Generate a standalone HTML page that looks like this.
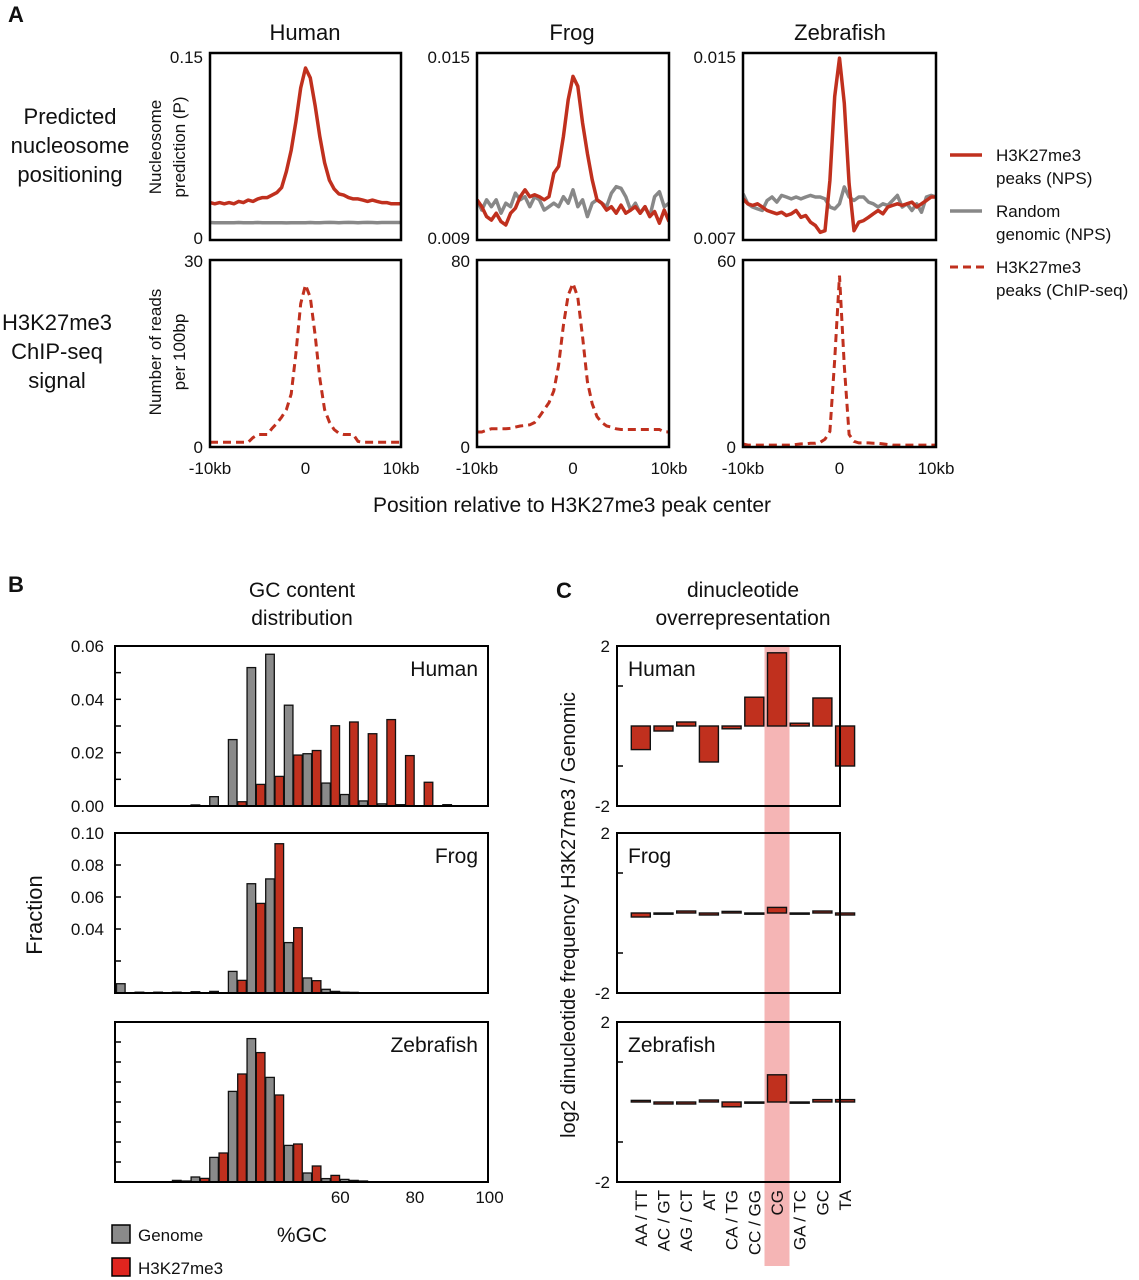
<!DOCTYPE html>
<html><head><meta charset="utf-8">
<style>
html,body{margin:0;padding:0;background:#fff;}
svg{display:block;font-family:"Liberation Sans",Arial,sans-serif;}
</style></head>
<body>
<svg id="fig" width="1139" height="1280" viewBox="0 0 1139 1280" xmlns="http://www.w3.org/2000/svg">
<defs>
<clipPath id="cH"><rect x="210" y="53" width="191" height="187"/></clipPath>
<clipPath id="cF"><rect x="477" y="53" width="192" height="187"/></clipPath>
<clipPath id="cZ"><rect x="743" y="53" width="193" height="187"/></clipPath>
</defs>
<g font-size="22" fill="#111">
<text x="8" y="22" font-weight="bold">A</text>
<text x="8" y="592" font-weight="bold">B</text>
<text x="556" y="598" font-weight="bold">C</text>
<text x="305" y="40" text-anchor="middle">Human</text>
<text x="572" y="40" text-anchor="middle">Frog</text>
<text x="840" y="40" text-anchor="middle">Zebrafish</text>
<text x="70" text-anchor="middle"><tspan x="70" y="124">Predicted</tspan><tspan x="70" y="153">nucleosome</tspan><tspan x="70" y="182">positioning</tspan></text>
<text x="57" text-anchor="middle"><tspan x="57" y="330">H3K27me3</tspan><tspan x="57" y="359">ChIP-seq</tspan><tspan x="57" y="388">signal</tspan></text>
<text x="572" y="512" text-anchor="middle" font-size="21">Position relative to H3K27me3 peak center</text>
</g>
<g font-size="17" fill="#111">
<text transform="translate(161,147) rotate(-90)" text-anchor="middle"><tspan x="0" y="0">Nucleosome</tspan><tspan x="0" y="24">prediction (P)</tspan></text>
<text transform="translate(161,352) rotate(-90)" text-anchor="middle"><tspan x="0" y="0">Number of reads</tspan><tspan x="0" y="24">per 100bp</tspan></text>
</g>
<g id="panelA"></g>
<g id="legendA" font-size="17" fill="#111">
<line x1="950" y1="155" x2="982" y2="155" stroke="#c0301e" stroke-width="3.5"/>
<text x="996" y="161"><tspan x="996" y="161">H3K27me3</tspan><tspan x="996" y="184">peaks (NPS)</tspan></text>
<line x1="950" y1="211" x2="982" y2="211" stroke="#888" stroke-width="3.5"/>
<text x="996" y="217"><tspan x="996" y="217">Random</tspan><tspan x="996" y="240">genomic (NPS)</tspan></text>
<line x1="950" y1="267" x2="984" y2="267" stroke="#c0301e" stroke-width="3" stroke-dasharray="8,5"/>
<text x="996" y="273"><tspan x="996" y="273">H3K27me3</tspan><tspan x="996" y="296">peaks (ChIP-seq)</tspan></text>
</g>
<g font-size="21" fill="#111">
<text x="302" y="597" text-anchor="middle"><tspan x="302" y="597">GC content</tspan><tspan x="302" y="625">distribution</tspan></text>
<text x="743" y="597" text-anchor="middle"><tspan x="743" y="597">dinucleotide</tspan><tspan x="743" y="625">overrepresentation</tspan></text>
<text transform="translate(42,915) rotate(-90)" text-anchor="middle" font-size="22">Fraction</text>
<text x="302" y="1242" text-anchor="middle">%GC</text>
<text transform="translate(575,915) rotate(-90)" text-anchor="middle" font-size="20">log2 dinucleotide frequency H3K27me3 / Genomic</text>
</g>
<g font-size="17" fill="#111">
<rect x="112" y="1225" width="18" height="18" fill="#8a8a8a" stroke="#000" stroke-width="1.5"/>
<text x="138" y="1241">Genome</text>
<rect x="112" y="1258" width="18" height="18" fill="#e0251f" stroke="#000" stroke-width="1.5"/>
<text x="138" y="1274">H3K27me3</text>
</g>
<g id="panelB"></g>
<g id="panelC"></g>
</svg>
<script>
// ---------- Panel A data (positions in kb, step 0.5) ----------
const kbPositions = [];
for (let k = -10; k <= 10.001; k += 0.5) kbPositions.push(Math.round(k * 10) / 10);
const humanNpsPeaks = [0.030,0.029,0.030,0.029,0.030,0.029,0.031,0.030,0.032,0.031,0.033,0.034,0.034,0.036,0.038,0.042,0.055,0.072,0.095,0.122,0.138,0.130,0.108,0.083,0.062,0.048,0.041,0.037,0.036,0.034,0.033,0.033,0.032,0.031,0.032,0.031,0.030,0.030,0.029,0.029,0.029];
const humanNpsRandom = [0.0140,0.0139,0.0139,0.0138,0.0139,0.0139,0.0140,0.0139,0.0138,0.0139,0.0140,0.0139,0.0139,0.0138,0.0139,0.0139,0.0137,0.0138,0.0138,0.0139,0.0139,0.0140,0.0139,0.0139,0.0140,0.0141,0.0140,0.0139,0.0140,0.0141,0.0140,0.0139,0.0140,0.0141,0.0140,0.0139,0.0140,0.0140,0.0140,0.0140,0.0140];
const frogNpsPeaks = [10.29,10.07,9.75,9.64,9.86,9.59,9.48,9.86,10.02,10.39,10.61,10.39,10.45,10.39,10.29,10.39,11.14,11.36,12.32,13.50,14.25,13.93,12.75,11.78,10.93,10.29,10.18,9.96,10.07,9.86,10.12,9.86,9.96,10.07,9.86,10.07,9.75,9.91,9.54,9.96,9.59].map(v => v / 1000);
const frogNpsRandom = [10.29,9.96,10.29,10.07,10.29,9.86,10.18,10.07,10.50,10.29,10.39,10.07,10.39,10.29,9.96,10.07,10.18,10.07,10.39,10.18,10.61,10.07,10.29,9.75,10.18,10.29,10.18,10.07,10.50,10.71,10.66,10.39,9.96,10.18,9.86,10.07,9.75,10.39,10.55,10.07,10.18].map(v => v / 1000);
const zebraNpsPeaks = [8.76,8.55,8.48,8.55,8.41,8.26,8.19,8.12,8.19,8.05,8.12,8.26,7.97,8.05,7.76,7.62,7.33,7.40,9.55,13.14,14.78,12.85,9.41,7.40,7.76,7.83,7.97,8.12,8.26,8.12,8.41,8.48,8.55,8.48,8.55,8.62,8.41,8.55,8.69,8.84,8.84].map(v => v / 1000);
const zebraNpsRandom = [8.98,8.55,8.41,8.33,8.26,8.69,8.84,8.62,8.91,8.84,8.76,8.84,8.76,8.84,8.91,8.84,8.84,8.76,8.41,8.33,8.55,9.27,8.84,8.69,8.84,8.84,8.62,8.55,8.41,8.55,8.48,8.69,8.91,8.41,8.55,8.26,8.55,8.19,8.84,8.91,8.84].map(v => v / 1000);
const humanChip = [0.75,0.75,0.75,0.75,0.75,0.75,0.75,0.75,0.75,1.5,2,2,2,3,3.8,4.8,6,8.5,15,23,26,24,18,11,6,4,2.8,2.2,2,2,2,0.9,0.75,0.75,0.75,0.75,0.75,0.75,0.75,0.75,0.75];
const frogChip = [6.4,6.4,7.2,7.8,7.8,7.8,7.8,8,8.5,9,9.2,9.5,10.5,13,16,19,24,35,52,65,70,64,47,28,18.5,13,10.5,9,8.5,7.8,7.5,7.5,7.5,7.5,7.5,7.5,7.5,7.5,7.5,6.5,6.4];
const zebraChip = [1,0.6,0.6,0.6,0.6,0.6,0.6,0.6,0.6,0.6,0.6,0.8,1,1,1.2,1.2,1.5,2.5,5,28,55,26,4,1.8,1.3,1.3,1.3,1.2,1.2,1,0.8,0.6,0.6,0.6,0.6,0.6,0.6,0.6,0.6,0.6,0.6];
const npsTickLabels = [["0.15","0"],["0.015","0.009"],["0.015","0.007"]];
const chipTickLabels = [["30","0"],["80","0"],["60","0"]];
const xTickLabels = ["-10kb","0","10kb"];

// ---------- Panel B data (5% GC bins) ----------
const gcBinStarts = [0,5,10,15,20,25,30,35,40,45,50,55,60,65,70,75,80,85,90,95];
const humanGenome = [0,0,0,0,0.0004,0.0035,0.0249,0.0519,0.0569,0.0378,0.0196,0.0086,0.0043,0.0019,0.0008,0.0005,0,0,0,0];
const humanK27 = [0,0,0,0,0,0,0.0016,0.0081,0.0111,0.0191,0.0208,0.0301,0.0315,0.0271,0.0324,0.0189,0.0089,0.0005,0,0];
const frogGenome = [0.0058,0.0005,0.0005,0.0005,0.0008,0.001,0.0135,0.0683,0.0713,0.0315,0.0094,0.0023,0.0005,0,0,0,0,0,0,0];
const frogK27 = [0,0,0,0,0,0,0.0079,0.056,0.0933,0.0408,0.0077,0.001,0.0004,0,0,0,0,0,0,0];
const zebraGenome = [0,0,0,0.0008,0.0025,0.0123,0.0453,0.0717,0.0523,0.0183,0.0045,0.0017,0.0013,0.0005,0,0,0,0,0,0];
const zebraK27 = [0,0,0,0.0005,0.0018,0.0145,0.054,0.0647,0.0435,0.019,0.008,0.0033,0.0008,0,0,0,0,0,0,0];
const gcXTicks = [60,80,100];
const humanYTicks = ["0.06","0.04","0.02","0.00"];
const frogYTicks = ["0.10","0.08","0.06","0.04"];

// ---------- Panel C data ----------
const dinucs = ["AA / TT","AC / GT","AG / CT","AT","CA / TG","CC / GG","CG","GA / TC","GC","TA"];
const humanLog2 = [-0.59,-0.125,0.1,-0.9,-0.07,0.72,1.83,0.07,0.7,-1.0];
const frogLog2 = [-0.1,0,0.05,-0.05,0.04,0,0.14,0,0.05,-0.05];
const zebraLog2 = [0.04,-0.05,-0.05,0.05,-0.12,-0.03,0.68,0,0.06,0.06];

const NS = "http://www.w3.org/2000/svg";
function mk(tag, attrs, parent) {
  const e = document.createElementNS(NS, tag);
  for (const k in attrs) e.setAttribute(k, attrs[k]);
  parent.appendChild(e);
  return e;
}
const RED = "#c0301e", GRAY = "#888";

// ---------- Panel A ----------
const gA = document.getElementById("panelA");
const colBoxes = [{x0:210,x1:401,name:"human",clip:"cH"},{x0:477,x1:669,name:"frog",clip:"cF"},{x0:743,x1:936,name:"zebrafish",clip:"cZ"}];
const npsRanges = [[0,0.15],[0.009,0.015],[0.007,0.015]];
const chipRanges = [[0,30],[0,80],[0,60]];
const npsSeries = [[humanNpsRandom,humanNpsPeaks],[frogNpsRandom,frogNpsPeaks],[zebraNpsRandom,zebraNpsPeaks]];
const chipSeries = [humanChip,frogChip,zebraChip];
function xKb(box, kb) { return box.x0 + (kb + 10) / 20 * (box.x1 - box.x0); }
function yLin(v, lo, hi, top, bot) { return bot - (v - lo) / (hi - lo) * (bot - top); }
function pathFrom(xs, ys) { return xs.map((x, i) => (i ? "L" : "M") + x.toFixed(1) + "," + ys[i].toFixed(1)).join(""); }

colBoxes.forEach((b, c) => {
  // top row
  const [lo, hi] = npsRanges[c];
  const g1 = mk("g", {"clip-path": "url(#" + b.clip + ")"}, gA);
  npsSeries[c].forEach((arr, s) => {
    const p = mk("path", {d: pathFrom(kbPositions.map(k => xKb(b, k)), arr.map(v => yLin(v, lo, hi, 53, 240))), fill: "none", stroke: s ? RED : GRAY, "stroke-width": 3.5, "stroke-linejoin": "round"}, g1);
    
    
  });
  const r1 = mk("rect", {x: b.x0, y: 53, width: b.x1 - b.x0, height: 187, fill: "none", stroke: "#000", "stroke-width": 2.5}, gA);
  
  
  npsTickLabels[c].forEach((t, i) => {
    const tx = mk("text", {x: b.x0 - 7, y: i ? 244 : 63, "text-anchor": "end", "font-size": 17, fill: "#111"}, gA);
    tx.textContent = t;
    
    
  });
  // bottom row
  const [clo, chi] = chipRanges[c];
  const p2 = mk("path", {d: pathFrom(kbPositions.map(k => xKb(b, k)), chipSeries[c].map(v => yLin(v, clo, chi, 260, 447))), fill: "none", stroke: RED, "stroke-width": 3, "stroke-dasharray": "8,5"}, gA);
  
  
  const r2 = mk("rect", {x: b.x0, y: 260, width: b.x1 - b.x0, height: 187, fill: "none", stroke: "#000", "stroke-width": 2.5}, gA);
  
  
  chipTickLabels[c].forEach((t, i) => {
    const tx = mk("text", {x: b.x0 - 7, y: i ? 453 : 267, "text-anchor": "end", "font-size": 17, fill: "#111"}, gA);
    tx.textContent = t;
    
    
  });
  [-10, 0, 10].forEach((k, i) => {
    const tx = mk("text", {x: xKb(b, k), y: 474, "text-anchor": "middle", "font-size": 17, fill: "#111"}, gA);
    tx.textContent = xTickLabels[i];
    
    
  });
});

// ---------- Panel B ----------
const gB = document.getElementById("panelB");
function xGC(p) { return 116.5 + p * 3.73; }
const histPanels = [
  {name:"human", top:646, bot:806, scale:2667, g:humanGenome, r:humanK27, label:"Human", ticks:[0.01,0.02,0.03,0.04,0.05], tl:humanYTicks, tlv:[0.06,0.04,0.02,0]},
  {name:"frog", top:833, bot:993, scale:1600, g:frogGenome, r:frogK27, label:"Frog", ticks:[0.02,0.04,0.06,0.08], tl:frogYTicks, tlv:[0.10,0.08,0.06,0.04]},
  {name:"zebrafish", top:1022, bot:1182, scale:2000, g:zebraGenome, r:zebraK27, label:"Zebrafish", ticks:[0.01,0.02,0.03,0.04,0.05,0.06,0.07], tl:[], tlv:[]}
];
histPanels.forEach(h => {
  const yv = v => h.bot - v * h.scale;
  gcBinStarts.forEach((s, i) => {
    [[h.g[i], 0, "#8a8a8a", "genome"], [h.r[i], 9.3, "#c0301e", "h3k27me3"]].forEach(([v, off, col, nm]) => {
      if (!v) return;
      const y = yv(v);
      const rc = mk("rect", {x: xGC(s) + off, y: y, width: 8.6, height: Math.max(h.bot - y, 1), fill: col, stroke: "#111", "stroke-width": 1.3}, gB);
      
      
    });
  });
  const fr = mk("rect", {x: 115, y: h.top, width: 373, height: h.bot - h.top, fill: "none", stroke: "#000", "stroke-width": 2}, gB);
  
  
  h.ticks.forEach(t => {
    const ln = mk("line", {x1: 115, x2: 121, y1: yv(t), y2: yv(t), stroke: "#000", "stroke-width": 1.5}, gB);
    
    
  });
  h.tl.forEach((t, i) => {
    const tx = mk("text", {x: 104, y: yv(h.tlv[i]) + 6, "text-anchor": "end", "font-size": 17, fill: "#111"}, gB);
    tx.textContent = t;
    
    
  });
  const lb = mk("text", {x: 478, y: h.top + 30, "text-anchor": "end", "font-size": 21, fill: "#111"}, gB);
  lb.textContent = h.label;
  
  
});
gcXTicks.forEach(t => {
  const tx = mk("text", {x: xGC(t), y: 1203, "text-anchor": "middle", "font-size": 17, fill: "#111"}, gB);
  tx.textContent = String(t);
  
  
});

// ---------- Panel C ----------
const gC = document.getElementById("panelC");
function xCat(i) { return 640.8 + i * 22.7; }
const cgIdx = dinucs.indexOf("CG");
const band = mk("rect", {x: xCat(cgIdx) - 12.5, y: 646, width: 25, height: 620, fill: "#f5b5b5"}, gC);


const cPanels = [
  {name:"human", top:646, vals:humanLog2, label:"Human"},
  {name:"frog", top:833, vals:frogLog2, label:"Frog"},
  {name:"zebrafish", top:1022, vals:zebraLog2, label:"Zebrafish"}
];
cPanels.forEach(p => {
  const zero = p.top + 80;
  const yv = v => zero - v * 40;
  p.vals.forEach((v, i) => {
    const y0 = Math.min(yv(v), zero), y1 = Math.max(yv(v), zero);
    const rc = mk("rect", {x: xCat(i) - 9.5, y: y0, width: 19, height: Math.max(y1 - y0, 1.2), fill: "#c0301e", stroke: "#111", "stroke-width": 1.4}, gC);
    
    
  });
  const fr = mk("rect", {x: 617, y: p.top, width: 223, height: 160, fill: "none", stroke: "#000", "stroke-width": 2}, gC);
  
  
  [1, -1].forEach(t => {
    const ln = mk("line", {x1: 617, x2: 623, y1: yv(t), y2: yv(t), stroke: "#000", "stroke-width": 1.5}, gC);
    
    
  });
  [["2", 2], ["-2", -2]].forEach(([t, v]) => {
    const tx = mk("text", {x: 610, y: yv(v) + 6, "text-anchor": "end", "font-size": 17, fill: "#111"}, gC);
    tx.textContent = t;
    
    
  });
  const lb = mk("text", {x: 628, y: p.top + 30, "font-size": 21, fill: "#111"}, gC);
  lb.textContent = p.label;
  
  
});
dinucs.forEach((d, i) => {
  const tx = mk("text", {transform: "translate(" + (xCat(i) + 6) + ",1190) rotate(-90)", "text-anchor": "end", "font-size": 17, fill: "#111"}, gC);
  tx.textContent = d;
  
  
});
</script>
</body></html>
